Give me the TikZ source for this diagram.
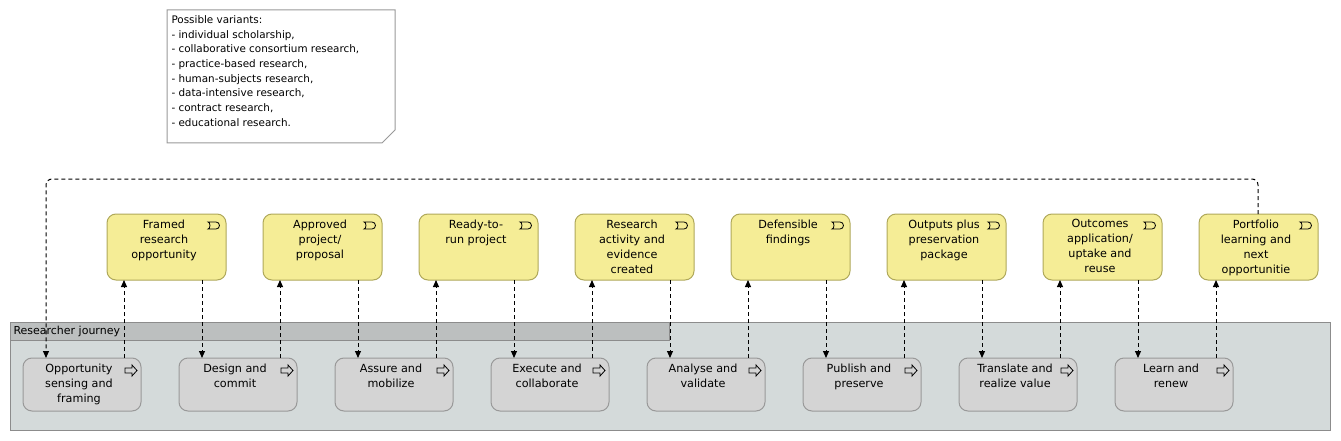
\documentclass[tikz,border=0pt]{standalone}
\usepackage{fontspec}
\setmainfont{DejaVu Sans}
\usetikzlibrary{arrows.meta}
\begin{document}
\begin{tikzpicture}[x=1pt,y=-1pt,line width=1pt,
 yel/.style={draw={rgb,255:red,175;green,168;blue,90}, fill={rgb,255:red,245;green,237;blue,150}, rounded corners=9pt, minimum width=119pt, minimum height=66pt, inner sep=0},
 gry/.style={draw=black!40, fill=black!17, rounded corners=9pt, minimum width=118pt, minimum height=53pt, inner sep=0},
 txt/.style={font=\fontsize{11.2}{15}\selectfont, align=center, anchor=north, inner sep=0},
 dep/.style={dash pattern=on 4pt off 3pt, -{Triangle[length=7pt,width=6pt]}},
 ]
\useasboundingbox (0,0) rectangle (1341,441);
% note
\draw[black!40, fill=white] (167,10) -- (395,10) -- (395,130) -- (382,143) -- (167,143) -- cycle;
\node[font=\fontsize{10.4}{14.7}\selectfont, align=left, anchor=north west, inner sep=0] (notetxt) at (171,15) {Possible variants:\\- individual scholarship,\\- collaborative consortium research,\\- practice-based research,\\- human-subjects research,\\- data-intensive research,\\- contract research,\\- educational research.};
% lane
\draw[black!45, fill={rgb,255:red,212;green,218;blue,218}] (10,322) rectangle (1330,430);
\draw[black!45, fill={rgb,255:red,188;green,191;blue,191}] (10,322) rectangle (669,340);
\node[font=\fontsize{11}{12}\selectfont, anchor=west, inner sep=0] (lanet) at (13,331) {Researcher journey};
\foreach \i/\yt/\gt in {
 0/{Framed\\research\\opportunity}/{Opportunity\\sensing and\\framing},
 1/{Approved\\project/\\proposal}/{Design and\\commit},
 2/{Ready-to-\\run project}/{Assure and\\mobilize},
 3/{Research\\activity and\\evidence\\created}/{Execute and\\collaborate},
 4/{Defensible\\findings}/{Analyse and\\validate},
 5/{Outputs plus\\preservation\\package}/{Publish and\\preserve},
 6/{Outcomes\\application/\\uptake and\\reuse}/{Translate and\\realize value},
 7/{Portfolio\\learning and\\next\\opportunitie}/{Learn and\\renew}}{
 \pgfmathsetmacro{\xo}{156*\i}
 \node[yel] (y\i) at (166.5+\xo,247) {};
 \node[txt] at (164+\xo,219) {\yt};
 \draw[black,line width=0.8pt] (208+\xo,222) -- (216+\xo,222) arc[start angle=90,end angle=-90,radius=3.5pt] -- (208+\xo,229) arc[start angle=-90,end angle=90,x radius=2pt,y radius=3.5pt] -- cycle;
 \node[gry] (g\i) at (82+\xo,384.5) {};
 \node[txt] at (79+\xo,363) {\gt};
 \draw[black,line width=0.8pt] (125+\xo,368) -- (132+\xo,368) -- (132+\xo,365) -- (137+\xo,370.5) -- (132+\xo,376) -- (132+\xo,373) -- (125+\xo,373) -- cycle;
 \draw[dep] (124+\xo,358) -- (124+\xo,280);
}
\foreach \i in {0,...,6}{
 \pgfmathsetmacro{\xo}{156*\i}
 \draw[dep] (202+\xo,280) -- (202+\xo,358);
}
\draw[dep, rounded corners=6pt] (1258,214) -- (1258,179) -- (46,179) -- (46,358);
\end{tikzpicture}
\end{document}
